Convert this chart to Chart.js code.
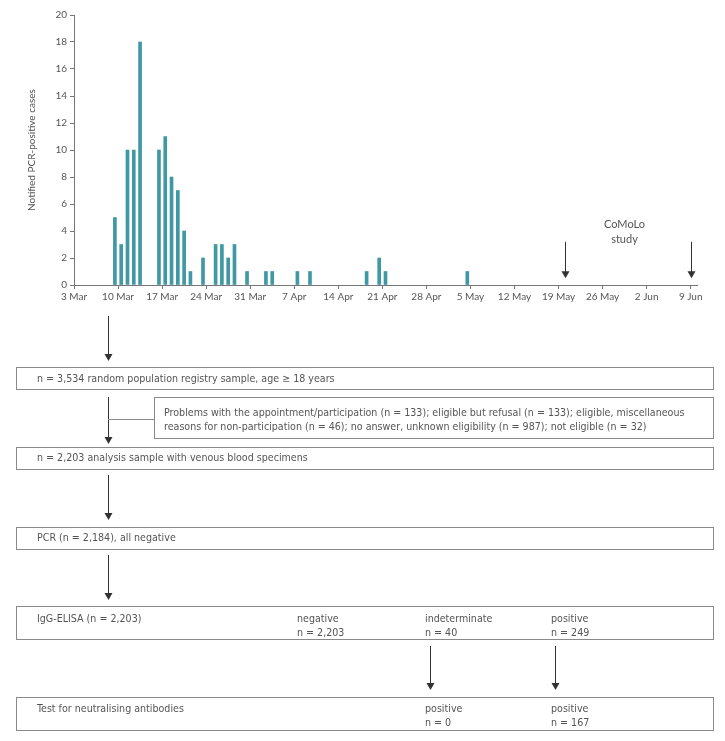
<!DOCTYPE html>
<html>
<head>
<meta charset="utf-8">
<script src="https://cdn.jsdelivr.net/npm/chart.js@4.4.0/dist/chart.umd.min.js"></script>
<style>
    body { margin: 0; background: #fff; }
    #wrap { position: relative; width: 725px; height: 741px; overflow: hidden; }
    #myChart { position: absolute; left: 0; top: 0; }
    .box { position: absolute; box-sizing: border-box; border: 1px solid #8a8a8a; }
    .txt { position: absolute; font-family: "DejaVu Sans Condensed", "Liberation Sans Narrow", sans-serif; font-size: 10.6px; line-height: 13.5px; color: #555; white-space: nowrap; }
    svg { position: absolute; left: 0; top: 0; }
</style>
</head>
<body>
<div id="wrap">
    <canvas id="myChart" width="725" height="310"></canvas>

    <svg width="725" height="741" id="flow"></svg>

    <div class="box" style="left:16px; top:367px; width:698px; height:23px;"></div>
    <div class="txt" style="left:37px; top:372px;">n = 3,534 random population registry sample, age ≥ 18 years</div>

    <div class="box" style="left:154px; top:397px; width:560px; height:42px;"></div>
    <div class="txt" style="left:164px; top:406px;">Problems with the appointment/participation (n = 133); eligible but refusal (n = 133); eligible, miscellaneous<br>reasons for non-participation (n = 46); no answer, unknown eligibility (n = 987); not eligible (n = 32)</div>

    <div class="box" style="left:16px; top:447px; width:698px; height:23px;"></div>
    <div class="txt" style="left:37px; top:451px;">n = 2,203 analysis sample with venous blood specimens</div>

    <div class="box" style="left:16px; top:527px; width:698px; height:23px;"></div>
    <div class="txt" style="left:37px; top:531px;">PCR (n = 2,184), all negative</div>

    <div class="box" style="left:16px; top:606px; width:698px; height:34px;"></div>
    <div class="txt" style="left:37px; top:612px;">IgG-ELISA (n = 2,203)</div>
    <div class="txt" style="left:297px; top:612px;">negative<br>n = 2,203</div>
    <div class="txt" style="left:425px; top:612px;">indeterminate<br>n = 40</div>
    <div class="txt" style="left:551px; top:612px;">positive<br>n = 249</div>

    <div class="box" style="left:16px; top:697px; width:698px; height:34px;"></div>
    <div class="txt" style="left:37px; top:702px;">Test for neutralising antibodies</div>
    <div class="txt" style="left:425px; top:702px;">positive<br>n = 0</div>
    <div class="txt" style="left:551px; top:702px;">positive<br>n = 167</div>
</div>

<script>
// notified PCR-positive cases per day (2020)
const caseDates = ['2020-03-09', '2020-03-10', '2020-03-11', '2020-03-12', '2020-03-13',
    '2020-03-16', '2020-03-17', '2020-03-18', '2020-03-19', '2020-03-20', '2020-03-21',
    '2020-03-23', '2020-03-25', '2020-03-26', '2020-03-27', '2020-03-28', '2020-03-30',
    '2020-04-02', '2020-04-03', '2020-04-07', '2020-04-09', '2020-04-18', '2020-04-20',
    '2020-04-21', '2020-05-04'];
const caseCounts = [5, 3, 10, 10, 18, 10, 11, 8, 7, 4, 1, 2, 3, 3, 2, 3, 1, 1, 1, 1, 1, 1, 2, 1, 1];

const xTickLabels = ['3 Mar', '10 Mar', '17 Mar', '24 Mar', '31 Mar', '7 Apr', '14 Apr', '21 Apr',
    '28 Apr', '5 May', '12 May', '19 May', '26 May', '2 Jun', '9 Jun'];

const studyDates = ['2020-05-20', '2020-06-09'];
const studyLabel = ['CoMoLo', 'study'];

const startDay = Date.UTC(2020, 2, 3);
function dayIndex(s) {
    const p = s.split('-');
    return (Date.UTC(+p[0], +p[1] - 1, +p[2]) - startDay) / 86400000;
}

const barData = caseDates.map((d, i) => ({ x: dayIndex(d) + 0.5, y: caseCounts[i] }));

// arrows and label for the CoMoLo study period
const studyPlugin = {
    id: 'studyArrows',
    afterDatasetsDraw(chart) {
        const ctx = chart.ctx;
        const xs = chart.scales.x;
        const ys = chart.scales.y;
        const y1 = ys.getPixelForValue(3.2);
        const y2 = ys.getPixelForValue(0.5);
        const px = [];
        ctx.save();
        ctx.strokeStyle = '#333';
        ctx.fillStyle = '#333';
        ctx.lineWidth = 1;
        studyDates.forEach(d => {
            const x = Math.round(xs.getPixelForValue(dayIndex(d))) + 0.5;
            px.push(x);
            ctx.beginPath();
            ctx.moveTo(x, y1);
            ctx.lineTo(x, y2 - 6);
            ctx.stroke();
            ctx.beginPath();
            ctx.moveTo(x - 4, y2 - 7);
            ctx.lineTo(x + 4, y2 - 7);
            ctx.lineTo(x, y2);
            ctx.closePath();
            ctx.fill();
        });
        ctx.fillStyle = '#555';
        ctx.font = '11px Lato, sans-serif';
        ctx.textAlign = 'center';
        ctx.textBaseline = 'middle';
        const mid = (px[0] + px[1]) / 2 - 4;
        ctx.fillText(studyLabel[0], mid, ys.getPixelForValue(4.45));
        ctx.fillText(studyLabel[1], mid, ys.getPixelForValue(3.4));
        ctx.restore();
    }
};

const ctx = document.getElementById('myChart').getContext('2d');
new Chart(ctx, {
    type: 'bar',
    data: {
        datasets: [{
            data: barData,
            backgroundColor: '#3f98a4',
            barThickness: 3
        }]
    },
    options: {
        responsive: false,
        animation: false,
        maintainAspectRatio: false,
        layout: { padding: { top: 15, right: 28, left: 0, bottom: 0 } },
        plugins: { legend: { display: false }, tooltip: { enabled: false } },
        scales: {
            x: {
                type: 'linear',
                offset: false,
                min: 0,
                max: 99,
                grid: { offset: false, drawOnChartArea: false, tickLength: 4, color: '#777' },
                border: { color: '#777' },
                ticks: {
                    stepSize: 7,
                    includeBounds: false,
                    maxRotation: 0,
                    autoSkip: false,
                    padding: 2,
                    color: '#555',
                    font: { family: 'Lato, sans-serif', size: 10 },
                    callback: v => xTickLabels[v / 7]
                },
                afterFit: s => { s.height = 25; }
            },
            y: {
                min: 0,
                max: 20,
                grid: { drawOnChartArea: false, tickLength: 4, color: '#777' },
                border: { color: '#777' },
                ticks: {
                    stepSize: 2,
                    padding: 3,
                    color: '#555',
                    font: { family: 'Lato, sans-serif', size: 10 }
                },
                title: {
                    display: true,
                    text: 'Notified PCR-positive cases',
                    color: '#555',
                    font: { family: 'Lato, sans-serif', size: 10 },
                    padding: { top: 26, bottom: 0 }
                },
                afterFit: s => { s.width = 74; }
            }
        }
    },
    plugins: [studyPlugin]
});

// flow chart lines
const flowArrows = [[108, 316, 361], [108, 397, 444], [108, 475, 520], [108, 555, 600], [429.5, 646, 690], [554.5, 646, 690]];
const svg = document.getElementById('flow');
let s = '';
flowArrows.forEach(a => {
    const x = Math.round(a[0]) + 0.5;
    s += `<line x1="${x}" y1="${a[1]}" x2="${x}" y2="${a[2] - 6}" stroke="#333" stroke-width="1"/>`;
    s += `<polygon points="${x - 4},${a[2] - 7} ${x + 4},${a[2] - 7} ${x},${a[2]}" fill="#333"/>`;
});
s += `<line x1="108" y1="419.5" x2="154" y2="419.5" stroke="#8a8a8a" stroke-width="1"/>`;
svg.innerHTML = s;
</script>
</body>
</html>
